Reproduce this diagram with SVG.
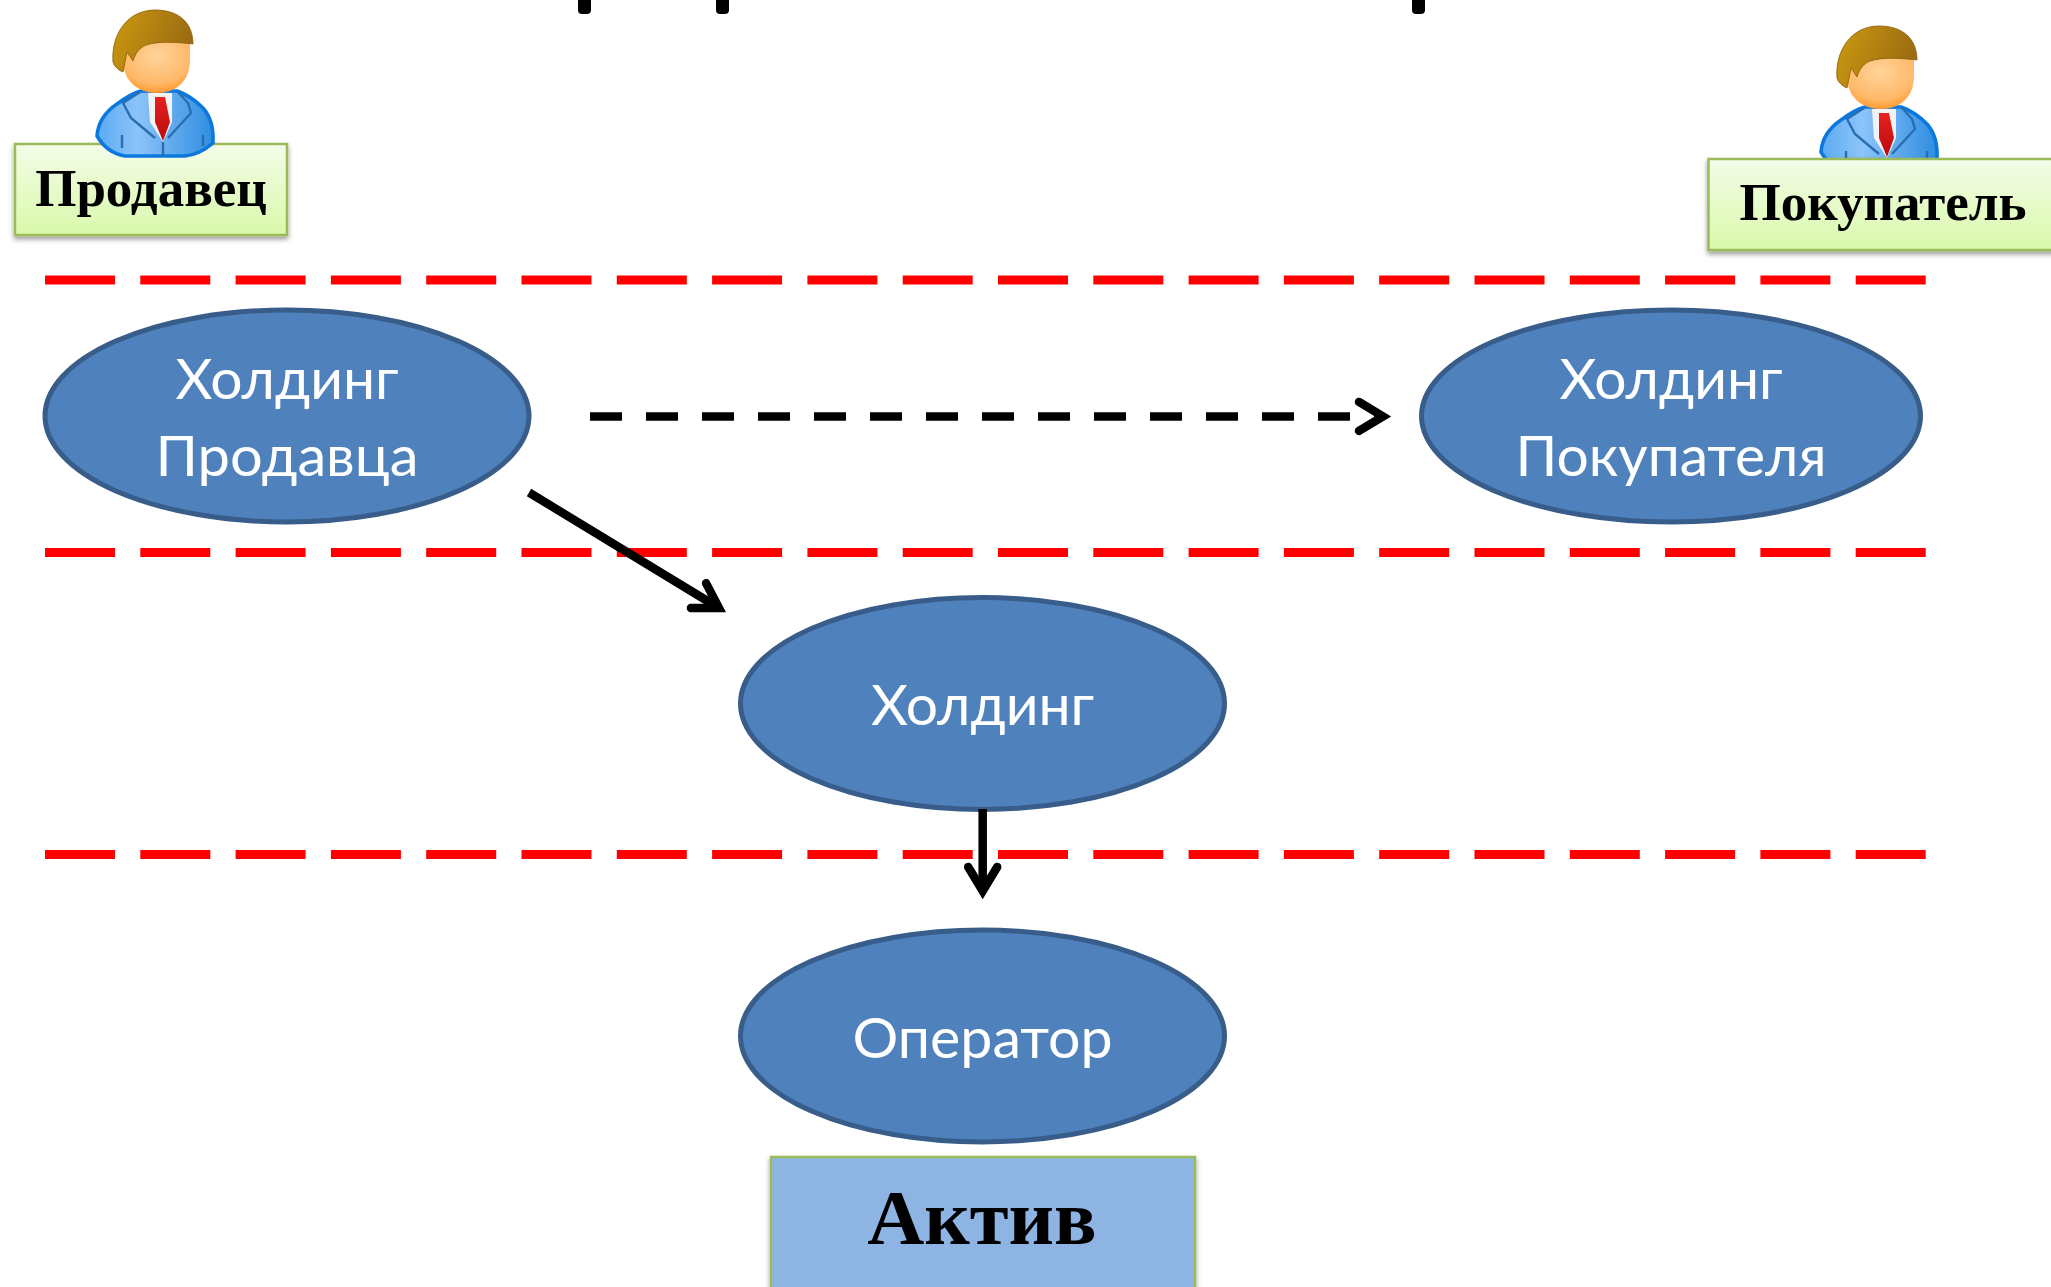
<svg xmlns="http://www.w3.org/2000/svg" xmlns:xlink="http://www.w3.org/1999/xlink" width="2051" height="1287" viewBox="0 0 2051 1287">
<defs>
<style>
.ell{fill:#4f81bd;stroke:#385d8a;stroke-width:5}
.et{font-family:"Lato","Open Sans","Noto Sans",sans-serif;font-size:57px;fill:#fff;text-anchor:middle}
.bt{font-family:"Liberation Serif",serif;font-weight:bold;font-size:53px;fill:#000;text-anchor:middle}
.red{stroke:#f00;stroke-width:9;stroke-dasharray:70 25.3;fill:none}
.conn{stroke:#000;stroke-width:8.5;fill:none}
.box{fill:url(#g);stroke:#9bbb59;stroke-width:2.5;filter:url(#sh)}
</style>
<linearGradient id="g" x1="0" y1="0" x2="0" y2="1"><stop offset="0" stop-color="#f4fce8"/><stop offset="1" stop-color="#d9f9ab"/></linearGradient>
<linearGradient id="hair" x1="0" y1="0" x2="1" y2=".3"><stop offset="0" stop-color="#cc9a10"/><stop offset="1" stop-color="#9c6c10"/></linearGradient>
<radialGradient id="face" cx=".5" cy=".3" r=".7"><stop offset="0" stop-color="#ffd49a"/><stop offset=".75" stop-color="#ffb868"/><stop offset="1" stop-color="#ff9a30"/></radialGradient>
<linearGradient id="suit" x1="0" y1="0" x2="1" y2="0"><stop offset="0" stop-color="#5aaaf0"/><stop offset=".35" stop-color="#8cc4fa"/><stop offset="1" stop-color="#2f8de0"/></linearGradient>
<linearGradient id="tie" x1="0" y1="0" x2="0" y2="1"><stop offset="0" stop-color="#e82020"/><stop offset="1" stop-color="#b80c0c"/></linearGradient>
<filter id="sh" x="-5%" y="-5%" width="110%" height="120%"><feDropShadow dx="0" dy="3" stdDeviation="2.5" flood-color="#000" flood-opacity=".4"/></filter>
<marker id="ah" markerUnits="userSpaceOnUse" markerWidth="60" markerHeight="60" refX="40" refY="30" orient="auto" overflow="visible">
<path d="M16 15.5L40 30L16 44.5" fill="none" stroke="#000" stroke-width="8.5" stroke-linecap="round"/>
</marker>
<g id="person">
<path d="M97 136C98 122 105 112 117 104C125 98 133 93 141 91L177 91C186 94 195 100 203 108C210 116 214 126 213 143C205 150 195 155 185 156L125 156C113 154 104 148 97 136Z" fill="url(#suit)" stroke="#0b78e0" stroke-width="3.500"/>
<path d="M148 93L150 122L163 142L172 122L172 93Z" fill="#f2f2f2"/>
<path d="M155 97L165 97L170 122L163 141L155 122Z" fill="url(#tie)"/>
<path d="M140 92L123 103L131 118L155 138M178 92L188 103L191 113L168 138M163 142V156M122 135V148M203 135V146" fill="none" stroke="#2a6db0" stroke-width="2.400"/>
<path d="M123 40H190V60C190 82 175 93 157 93C139 93 123 82 123 60Z" fill="url(#face)"/>
<path d="M113 62C111 35 127 10 155 10C178 10 193 22 193 44C175 42 158 41 146 45C139 48 135 54 133 61L127 52L123 72C118 70 114 66 113 62Z" fill="url(#hair)" stroke="#8a5c08" stroke-width=".8"/>
</g>
</defs>
<rect width="2051" height="1287" fill="#fff"/>
<path d="M578 0h13v10q0 4-4 4h-5q-4 0-4-4zM716 0h13v10q0 4-4 4h-5q-4 0-4-4zM1412 0h13v10q0 4-4 4h-5q-4 0-4-4z" fill="#000"/>
<g id="separators">
<path class="red" d="M45 280H1926"/>
<path class="red" d="M45 552.500H1926"/>
<path class="red" d="M45 854.500H1926"/>
</g>
<use xlink:href="#person" href="#person" transform="translate(1724 16)"/>
<g id="seller"><rect class="box" x="15" y="144" width="272" height="91"/><use xlink:href="#person" href="#person"/><text class="bt" x="151" y="206">Продавец</text></g>
<g id="buyer"><rect class="box" x="1708.500" y="159" width="360" height="91"/><text class="bt" x="1883" y="220">Покупатель</text></g>
<g id="holding-seller"><ellipse class="ell" cx="287" cy="416" rx="242" ry="106"/><text class="et" x="287" y="399">Холдинг</text><text class="et" x="287" y="476" textLength="263" lengthAdjust="spacingAndGlyphs">Продавца</text></g>
<g id="holding-buyer"><ellipse class="ell" cx="1671" cy="416" rx="249.500" ry="106"/><text class="et" x="1671" y="399">Холдинг</text><text class="et" x="1671" y="476">Покупателя</text></g>
<g id="holding"><ellipse class="ell" cx="982.500" cy="703.500" rx="242" ry="106"/><text class="et" x="982.500" y="725">Холдинг</text></g>
<g id="operator"><ellipse class="ell" cx="982.500" cy="1036" rx="242" ry="106"/><text class="et" x="982.500" y="1058" textLength="260" lengthAdjust="spacingAndGlyphs">Оператор</text></g>
<g id="asset"><rect x="771" y="1157" width="424" height="150" fill="#8eb4e3" stroke="#9bbb59" stroke-width="2.500" filter="url(#sh)"/><text class="bt" x="982" y="1244" style="font-size:79px">Актив</text></g>
<g id="connectors">
<path class="conn" d="M590 416.400H1383" stroke-dasharray="32 24" marker-end="url(#ah)"/>
<path class="conn" d="M529 492.500L719 608" marker-end="url(#ah)"/>
<path class="conn" d="M982.700 809V891" marker-end="url(#ah)"/>
</g>
</svg>
